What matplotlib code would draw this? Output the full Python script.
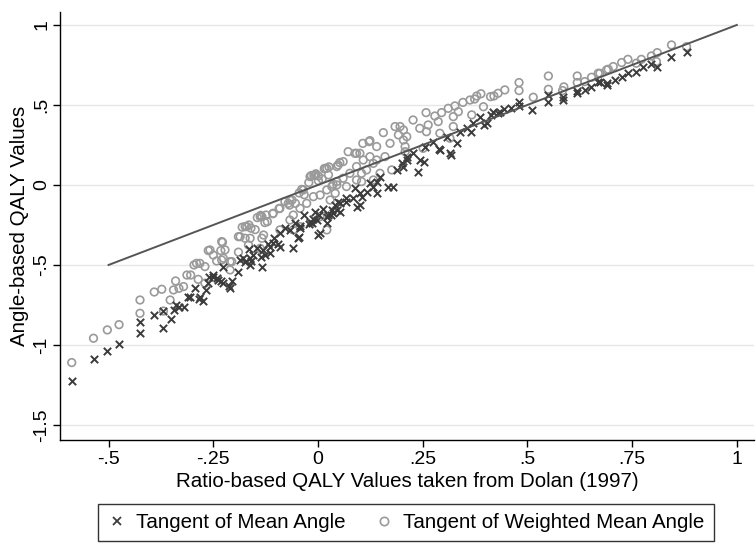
import matplotlib
matplotlib.use("Agg")
import matplotlib.pyplot as plt
from matplotlib.lines import Line2D

plt.rcParams['font.family'] = ['Liberation Sans', 'DejaVu Sans']

# Tangent of mean angle (crosses): ratio-based value, angle-based value
mean_x = [-0.588, -0.536, -0.503, -0.475, -0.425, -0.425, -0.391, -0.369, -0.369, -0.352,
          -0.345, -0.340, -0.332, -0.321, -0.310, -0.305, -0.294, -0.284, -0.282, -0.275,
          -0.268, -0.262, -0.260, -0.250, -0.250, -0.242, -0.238, -0.232, -0.226, -0.226,
          -0.212, -0.210, -0.206, -0.190, -0.186, -0.178, -0.174, -0.165, -0.162, -0.162,
          -0.160, -0.154, -0.146, -0.137, -0.134, -0.131, -0.126, -0.119, -0.115, -0.114,
          -0.107, -0.104, -0.096, -0.091, -0.091, -0.079, -0.068, -0.059, -0.054, -0.047,
          -0.045, -0.043, -0.042, -0.033, -0.022, -0.019, -0.015, -0.013, -0.008, -0.003,
          0.001, 0.003, 0.005, 0.013, 0.021, 0.021, 0.025, 0.030, 0.033, 0.037,
          0.041, 0.045, 0.048, 0.052, 0.052, 0.068, 0.068, 0.084, 0.088, 0.092,
          0.100, 0.100, 0.104, 0.116, 0.124, 0.132, 0.140, 0.140, 0.148, 0.168,
          0.180, 0.188, 0.200, 0.204, 0.212, 0.212, 0.227, 0.239, 0.243, 0.254,
          0.255, 0.275, 0.288, 0.291, 0.307, 0.315, 0.317, 0.331, 0.339, 0.355,
          0.366, 0.371, 0.387, 0.397, 0.403, 0.414, 0.418, 0.430, 0.434, 0.443,
          0.460, 0.480, 0.480, 0.512, 0.550, 0.550, 0.584, 0.584, 0.619, 0.619,
          0.637, 0.653, 0.669, 0.673, 0.689, 0.690, 0.709, 0.725, 0.740, 0.760,
          0.776, 0.796, 0.810, 0.844, 0.880]
mean_y = [-1.223, -1.088, -1.040, -0.996, -0.927, -0.858, -0.813, -0.896, -0.788, -0.840,
          -0.780, -0.750, -0.760, -0.765, -0.698, -0.698, -0.646, -0.713, -0.698, -0.725,
          -0.656, -0.614, -0.573, -0.563, -0.573, -0.580, -0.594, -0.600, -0.510, -0.614,
          -0.631, -0.646, -0.598, -0.542, -0.469, -0.458, -0.479, -0.398, -0.458, -0.500,
          -0.474, -0.438, -0.396, -0.453, -0.510, -0.409, -0.438, -0.366, -0.427, -0.387,
          -0.365, -0.333, -0.366, -0.385, -0.300, -0.268, -0.279, -0.396, -0.235, -0.333,
          -0.326, -0.271, -0.257, -0.190, -0.246, -0.229, -0.240, -0.213, -0.170, -0.219,
          -0.311, -0.190, -0.302, -0.148, -0.240, -0.198, -0.188, -0.190, -0.156, -0.177,
          -0.125, -0.156, -0.104, -0.115, -0.167, -0.083, -0.104, -0.083, -0.021, -0.135,
          -0.052, -0.125, -0.073, -0.042, 0.010, -0.010, -0.052, 0.021, 0.052, -0.010,
          -0.010, 0.094, 0.135, 0.115, 0.156, 0.177, 0.198, 0.080, 0.156, 0.146,
          0.240, 0.271, 0.222, 0.219, 0.302, 0.198, 0.189, 0.260, 0.333, 0.354,
          0.331, 0.385, 0.427, 0.374, 0.385, 0.440, 0.458, 0.448, 0.458, 0.472,
          0.483, 0.494, 0.521, 0.469, 0.521, 0.563, 0.531, 0.550, 0.573, 0.590,
          0.594, 0.615, 0.646, 0.646, 0.635, 0.625, 0.656, 0.677, 0.698, 0.708,
          0.740, 0.754, 0.740, 0.802, 0.833]

# Tangent of weighted mean angle (circles)
wmean_x = [-0.588, -0.536, -0.503, -0.475, -0.425, -0.425, -0.391, -0.373, -0.369, -0.353,
           -0.345, -0.340, -0.332, -0.321, -0.313, -0.304, -0.296, -0.290, -0.286, -0.282,
           -0.270, -0.270, -0.262, -0.258, -0.250, -0.242, -0.232, -0.230, -0.230, -0.228,
           -0.226, -0.222, -0.210, -0.210, -0.206, -0.190, -0.190, -0.186, -0.181, -0.174,
           -0.174, -0.170, -0.166, -0.165, -0.162, -0.160, -0.150, -0.145, -0.138, -0.138,
           -0.137, -0.134, -0.134, -0.130, -0.127, -0.124, -0.121, -0.108, -0.107, -0.093,
           -0.091, -0.091, -0.079, -0.071, -0.068, -0.067, -0.067, -0.062, -0.059, -0.059,
           -0.054, -0.045, -0.043, -0.043, -0.039, -0.035, -0.033, -0.027, -0.022, -0.019,
           -0.016, -0.011, -0.010, -0.007, -0.005, 0.001, 0.001, 0.005, 0.005, 0.010,
           0.015, 0.017, 0.021, 0.021, 0.021, 0.025, 0.026, 0.029, 0.033, 0.036,
           0.041, 0.045, 0.045, 0.045, 0.048, 0.052, 0.060, 0.060, 0.068, 0.072,
           0.076, 0.088, 0.092, 0.092, 0.092, 0.100, 0.104, 0.104, 0.107, 0.108,
           0.116, 0.122, 0.124, 0.124, 0.132, 0.132, 0.140, 0.140, 0.148, 0.156,
           0.160, 0.172, 0.176, 0.184, 0.192, 0.196, 0.204, 0.204, 0.208, 0.208,
           0.212, 0.227, 0.243, 0.251, 0.258, 0.259, 0.263, 0.279, 0.287, 0.291,
           0.295, 0.311, 0.315, 0.323, 0.323, 0.327, 0.335, 0.346, 0.363, 0.367,
           0.374, 0.379, 0.389, 0.395, 0.412, 0.420, 0.430, 0.446, 0.480, 0.480,
           0.514, 0.550, 0.550, 0.584, 0.587, 0.619, 0.619, 0.637, 0.653, 0.669,
           0.673, 0.689, 0.693, 0.705, 0.725, 0.740, 0.760, 0.772, 0.796, 0.808,
           0.810, 0.844, 0.880]
wmean_y = [-1.110, -0.958, -0.906, -0.873, -0.802, -0.719, -0.669, -0.652, -0.788, -0.719,
           -0.656, -0.600, -0.646, -0.635, -0.563, -0.563, -0.500, -0.490, -0.590, -0.490,
           -0.614, -0.510, -0.410, -0.406, -0.438, -0.475, -0.410, -0.354, -0.469, -0.358,
           -0.458, -0.406, -0.531, -0.479, -0.479, -0.323, -0.420, -0.323, -0.264, -0.333,
           -0.260, -0.260, -0.375, -0.250, -0.333, -0.270, -0.279, -0.204, -0.396, -0.198,
           -0.190, -0.333, -0.198, -0.313, -0.235, -0.188, -0.229, -0.180, -0.177, -0.148,
           -0.146, -0.281, -0.104, -0.115, -0.126, -0.094, -0.219, -0.094, -0.281, -0.188,
           -0.115, -0.050, -0.146, -0.260, -0.028, -0.031, -0.061, -0.115, 0.015, 0.052,
           0.059, -0.073, 0.059, 0.063, 0.070, 0.026, 0.056, -0.063, -0.198, 0.037,
           0.102, 0.104, 0.104, -0.031, -0.281, 0.063, 0.113, -0.094, -0.010, 0.004,
           -0.052, 0.115, 0.021, 0.000, 0.125, 0.140, 0.146, 0.042, -0.010, 0.208,
           0.073, 0.198, 0.198, 0.115, 0.031, 0.198, 0.021, 0.073, 0.260, 0.156,
           0.094, 0.271, 0.277, 0.177, 0.135, 0.031, 0.240, 0.156, 0.073, 0.327,
           0.177, 0.260, 0.094, 0.365, 0.313, 0.365, 0.281, 0.344, 0.208, 0.240,
           0.302, 0.406, 0.354, 0.229, 0.452, 0.333, 0.375, 0.431, 0.396, 0.323,
           0.452, 0.479, 0.292, 0.427, 0.365, 0.494, 0.458, 0.516, 0.531, 0.438,
           0.537, 0.556, 0.570, 0.489, 0.552, 0.556, 0.573, 0.594, 0.640, 0.590,
           0.548, 0.681, 0.598, 0.590, 0.613, 0.681, 0.640, 0.646, 0.673, 0.698,
           0.698, 0.719, 0.723, 0.740, 0.765, 0.785, 0.761, 0.785, 0.806, 0.771,
           0.827, 0.875, 0.864]

# reference line (45 degrees)
line_x = [-0.5, 1.0]
line_y = [-0.5, 1.0]

xticks = [-0.5, -0.25, 0, 0.25, 0.5, 0.75, 1]
xtick_labels = ["-.5", "-.25", "0", ".25", ".5", ".75", "1"]
yticks = [-1.5, -1, -0.5, 0, 0.5, 1]
ytick_labels = ["-1.5", "-1", "-.5", "0", ".5", "1"]

fig = plt.figure(figsize=(7.56, 5.45), dpi=100)
ax = fig.add_axes([60 / 756, 1 - 440 / 545, 694 / 756, 428 / 545])

ax.set_xlim(-0.616, 1.041)
ax.set_ylim(-1.594, 1.081)

for yv in yticks:
    ax.axhline(yv, color="#e6e6e6", lw=1.0, zorder=0)

ax.plot(line_x, line_y, color="#555555", lw=1.4, zorder=3)
ax.scatter(wmean_x, wmean_y, s=30, facecolors="none", edgecolors="#9a9a9a",
           linewidths=1.2, zorder=2)
ax.scatter(mean_x, mean_y, s=28, marker="x", color="#3c3c3c", linewidths=1.4, zorder=2)

ax.set_xticks(xticks)
ax.set_xticklabels(xtick_labels)
ax.set_yticks(yticks)
ax.set_yticklabels(ytick_labels, rotation=90, va="center")
ax.tick_params(axis="both", length=5, width=1, labelsize=14, color="black")
ax.tick_params(axis="x", pad=3)
ax.tick_params(axis="y", pad=2)

for side in ["top", "right"]:
    ax.spines[side].set_visible(False)
for side in ["left", "bottom"]:
    ax.spines[side].set_linewidth(1.0)
    ax.spines[side].set_color("black")

ax.set_xlabel("Ratio-based QALY Values taken from Dolan (1997)", fontsize=14.8, labelpad=3)
ax.set_ylabel("Angle-based QALY Values", fontsize=14.8, labelpad=3)

handles = [
    Line2D([], [], marker="x", ls="none", color="#3c3c3c", markersize=5.5, mew=1.3),
    Line2D([], [], marker="o", ls="none", markerfacecolor="none",
           markeredgecolor="#9a9a9a", markersize=6, mew=1.2),
]
leg = fig.legend(handles, ["Tangent of Mean Angle", "Tangent of Weighted Mean Angle"],
                 loc="lower center", bbox_to_anchor=(0.537, 0.007), ncol=2,
                 fontsize=14.8, frameon=True, fancybox=False, edgecolor="black",
                 handlelength=0.9, handletextpad=0.5, columnspacing=1.4,
                 borderpad=0.45, borderaxespad=0)
leg.get_frame().set_linewidth(1.0)

fig.savefig("out.png", dpi=100, facecolor="white")
